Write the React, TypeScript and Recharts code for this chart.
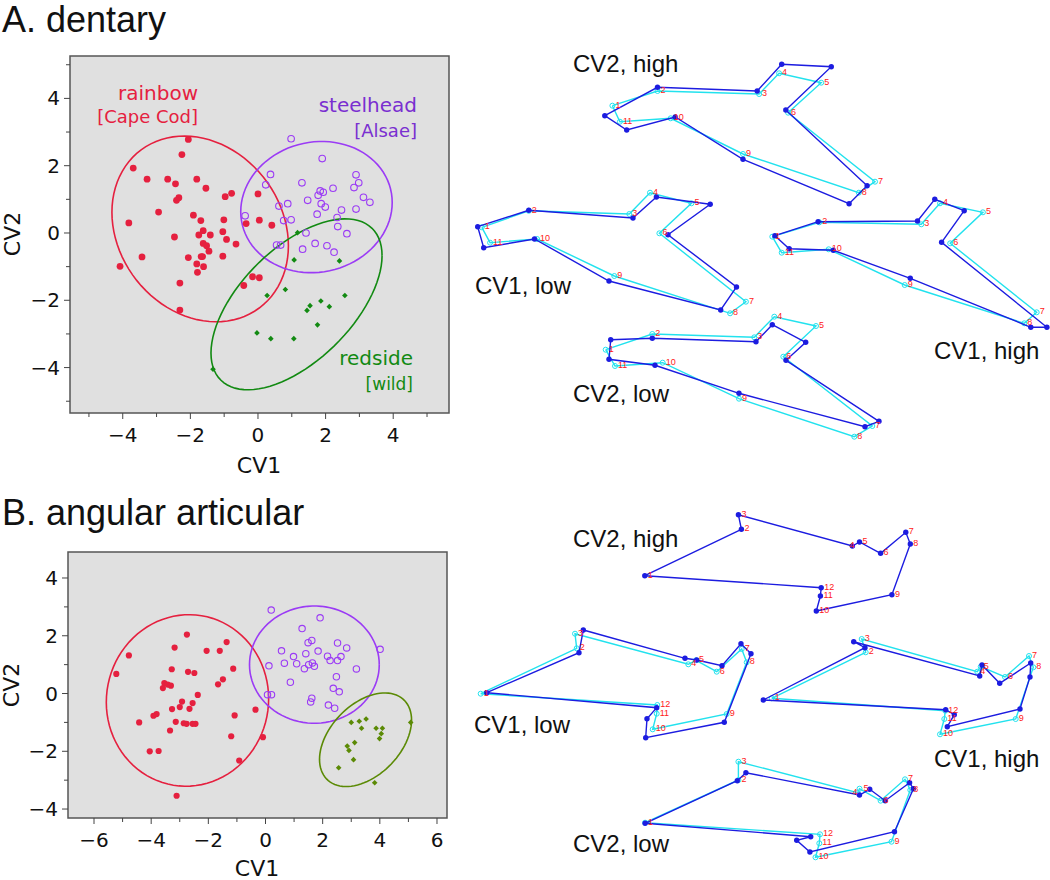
import React from "react";
import {
  ScatterChart,
  Scatter,
  XAxis,
  YAxis,
  ReferenceArea,
} from "recharts";

// ---------- panel A (dentary) scatter values ----------
const rainbowA = [
  [-2.06, 2.78], [-2.25, 2.33], [-3.69, 1.93], [-3.28, 1.6], [-2.67, 1.6], [-2.44, 1.46],
  [-1.81, 1.6], [-1.54, 1.33], [-2.34, 1.05], [-2.41, 0.97], [-0.97, 1.08], [-0.78, 1.18],
  [0.0, 1.16], [-2.94, 0.62], [-1.91, 0.53], [-1.69, 0.37], [-1.01, 0.39], [-0.35, 0.28],
  [0.04, 0.38], [0.41, 0.23], [-3.82, 0.3], [-1.62, 0.07], [-1.75, -0.06], [-1.41, -0.06],
  [-1.04, 0.04], [-0.93, -0.19], [-0.65, -0.33], [-2.47, -0.12], [-1.62, -0.31], [-1.52, -0.38],
  [-1.45, -0.54], [-1.64, -0.7], [-1.68, -0.7], [-2.06, -0.73], [-3.43, -0.71], [-1.04, -0.69],
  [-1.81, -0.92], [-1.61, -1.0], [-1.79, -1.17], [-4.08, -0.99], [-0.16, -1.3], [0.04, -1.33],
  [-0.42, -1.56], [-2.31, -1.49], [-2.31, -2.29],
];
const steelheadA = [
  [0.98, 2.8], [1.9, 2.21], [0.37, 1.74], [0.23, 1.43], [1.3, 1.49], [2.9, 1.73], [2.98, 1.49],
  [2.84, 1.35], [2.22, 1.33], [1.84, 1.25], [1.93, 1.21], [1.78, 1.12], [3.12, 1.06], [3.31, 0.91],
  [1.47, 0.97], [1.87, 0.87], [1.99, 0.77], [0.88, 0.87], [0.62, 0.8], [2.47, 0.68], [2.9, 0.71],
  [1.75, 0.56], [-0.38, 0.51], [0.76, 0.37], [0.98, 0.39], [2.34, 0.46], [2.36, 0.19], [1.42, 0.0],
  [2.63, -0.02], [0.55, -0.36], [0.67, -0.36], [1.69, -0.31], [2.04, -0.38], [1.32, -0.48],
  [2.25, -0.57],
];
const redsideA = [
  [1.17, 0.01], [1.07, -0.8], [2.41, -0.83], [0.81, -1.68], [0.27, -1.86], [2.57, -1.86],
  [1.86, -2.02], [1.54, -2.16], [1.45, -2.3], [2.11, -2.19], [1.76, -2.73], [-0.03, -2.97],
  [0.38, -3.14], [1.06, -3.14], [-1.33, -4.05],
];
// ellipse: centre x, centre y, half width, half height, tilt (correlation)
const ellipseRainbowA = [-1.71, 0.12, 2.61, 2.76, -0.18];
const ellipseSteelheadA = [1.73, 0.77, 2.24, 1.95, 0.07];
const ellipseRedsideA = [1.14, -2.12, 2.53, 2.54, 0.57];

// ---------- panel B (angular articular) scatter values ----------
const rainbowB = [
  [-2.75, 2.04], [-3.18, 1.59], [-1.36, 1.78], [-2.06, 1.48], [-1.6, 1.48], [-4.78, 1.32],
  [-1.13, 0.86], [-3.28, 0.84], [-2.71, 0.75], [-2.49, 0.71], [-5.22, 0.68], [-1.49, 0.49],
  [-1.66, 0.32], [-3.54, 0.36], [-3.42, 0.31], [-3.31, 0.27], [-3.59, 0.19], [-2.37, -0.05],
  [-2.92, -0.28], [-2.55, -0.33], [-3.0, -0.47], [-2.66, -0.53], [-3.27, -0.54], [-0.35, -0.56],
  [-3.81, -0.71], [-3.92, -0.77], [-1.08, -0.76], [-4.42, -1.0], [-3.14, -0.98], [-2.86, -1.03],
  [-2.76, -1.05], [-2.55, -1.05], [-2.45, -1.05], [-3.34, -1.28], [-1.2, -1.48], [-0.09, -1.51],
  [-4.05, -2.0], [-3.74, -1.99], [-0.92, -2.32], [-3.11, -3.54],
];
const steelheadB = [
  [0.2, 2.89], [1.91, 2.62], [1.28, 2.25], [1.62, 1.84], [1.49, 1.76], [2.52, 1.75], [2.84, 1.58],
  [4.01, 1.53], [0.56, 1.48], [1.84, 1.47], [1.41, 1.38], [0.98, 1.28], [2.17, 1.29], [2.64, 1.28],
  [2.26, 1.14], [2.52, 1.14], [0.66, 1.05], [1.09, 1.03], [0.12, 0.96], [1.51, 1.0], [1.64, 1.06],
  [1.71, 0.94], [1.36, 0.86], [3.18, 0.85], [2.48, 0.58], [0.87, 0.39], [2.37, 0.18], [2.58, 0.06],
  [0.07, -0.04], [0.21, -0.04], [1.62, -0.16], [1.58, -0.29], [2.2, -0.4], [2.42, -0.51],
];
const redsideB = [
  [3.52, -0.88], [3.28, -0.96], [3.0, -1.0], [5.08, -1.0], [3.36, -1.2], [3.87, -1.2], [4.09, -1.2],
  [4.05, -1.39], [3.99, -1.56], [3.12, -1.7], [2.86, -1.82], [2.92, -1.97], [3.08, -2.29],
  [2.56, -2.57], [3.82, -3.09],
];
const ellipseRainbowB = [-2.73, -0.24, 2.84, 2.97, 0.02];
const ellipseSteelheadB = [1.71, 1.0, 2.27, 2.03, 0.0];
const ellipseRedsideB = [3.5, -1.6, 1.61, 1.62, 0.42];

// ---------- landmark outlines (figure units, y downwards) ----------
// A. dentary
const dentCv2HighBlue = [[604.8, 115.7], [657.5, 87.3], [757.2, 91], [781.7, 64.3], [831.3, 66.7], [785.8, 110], [867.1, 185.7], [849.1, 203.7], [743, 159.3], [675.2, 117], [626.7, 130]];
const dentCv2HighCyan = [[612.4, 105.7], [657.5, 91], [759.1, 94], [779.1, 73.3], [821.2, 82.7], [788.1, 112.7], [875, 181.7], [858.8, 192.7], [743, 154], [670.7, 118.3], [619.9, 121.7]];
const dentCv1LowBlue = [[477.7, 226.7], [528.8, 210.3], [633, 218], [656.4, 197], [710.2, 204.3], [668, 234.7], [736.5, 287], [720.7, 310], [609, 281], [534.5, 239], [483.7, 247.7]];
const dentCv1LowCyan = [[481.8, 227.3], [528.8, 210.8], [629.3, 214], [650, 192.7], [691.4, 203.3], [659.4, 233.3], [745.9, 301.7], [730.1, 313.3], [614.3, 276], [537.1, 239], [490.1, 242.7]];
const dentCv1HighBlue = [[774.9, 235.7], [818.1, 221.7], [917.5, 221], [934.8, 199.3], [964.2, 210.7], [941.6, 242.3], [1046.9, 327.3], [1030.8, 327.3], [910.3, 278.3], [833.3, 250.3], [789.2, 248.7]];
const dentCv1HighCyan = [[772.3, 236.7], [819.3, 222.3], [921.3, 224.3], [940, 203.3], [982.9, 212.3], [950.2, 243.3], [1036.7, 312.3], [1024.3, 323.3], [904.7, 285], [828.7, 249.3], [781.7, 252.7]];
const dentCv2LowBlue = [[610.7, 339.7], [652.3, 338.3], [756, 341.7], [772.3, 324.7], [805.7, 342.3], [786, 360.3], [879, 421.3], [865, 426.7], [739, 393.3], [655, 365.3], [609, 359.3]];
const dentCv2LowCyan = [[605.7, 349.7], [652.3, 334], [754.3, 337.3], [774.3, 316.7], [816, 326], [783.3, 356.7], [872.3, 426], [854.3, 436.7], [739, 398.7], [662.7, 362.7], [615, 366]];
// B. angular articular
const angCv2HighBlue = [[644.8, 575.7], [741.4, 529.3], [738.4, 514.7], [852.4, 546], [859.5, 542], [880.6, 553.3], [905.8, 532.3], [910.3, 544], [891.9, 594.7], [816.3, 611], [820.4, 596], [821.2, 587.7]];
const angCv1LowBlue = [[486.7, 692.7], [579, 652.7], [583.3, 630], [685, 658.3], [696.7, 660], [722, 665.7], [741, 643.7], [751, 653.7], [724.3, 722.3], [645.7, 737.7], [647, 718.7], [656.7, 707.7]];
const angCv1LowCyan = [[480.7, 693.7], [576.7, 648.3], [575, 633.7], [688.3, 664.3], [696, 660.3], [716.7, 671.7], [741.7, 649], [746.7, 662.3], [726.7, 714], [652.7, 729.3], [656.7, 713.7], [657.3, 705]];
const angCv1HighBlue = [[763.3, 700], [865, 647.7], [853.7, 641.7], [979.7, 676], [982, 665], [999.7, 683.3], [1030.7, 663], [1030, 677], [1020, 709], [947.3, 726.7], [954.3, 714.7], [945.7, 709.7]];
const angCv1HighCyan = [[771.7, 698.3], [865.7, 652.3], [861.7, 639], [977.3, 671.7], [980.7, 666.7], [1005, 677], [1029, 656], [1033.3, 667.3], [1015.7, 719], [940, 734.3], [944.3, 719], [945.3, 710.7]];
const angCv2LowBlue = [[645.1, 823.3], [737.3, 780.7], [745.9, 772.7], [859.5, 795], [869.7, 789.3], [885.2, 800.7], [909.6, 782.7], [913.4, 788.7], [894.5, 831.7], [809.9, 852], [796.7, 840.3], [810.7, 836.7]];
const angCv2LowCyan = [[645.1, 822.7], [738.4, 780], [738.4, 761.7], [857.6, 792.7], [859.5, 788.7], [880.6, 800.7], [905, 779.3], [910.3, 790], [891.5, 841.7], [815.5, 857.3], [819.3, 843.3], [820, 834.3]];

const RED = "#e5203f";
const PURPLE = "#9b3bf5";
const GREEN_A = "#128a12";
const GREEN_B = "#5b8a05";
const BLUE = "#1c1ce0";
const CYAN = "#22e2ee";
const BG = "#e0e0e0";

const toPts = (arr: number[][]) => arr.map(([x, y]) => ({ x, y }));

function ellipsePts(e: number[]) {
  const [cx, cy, sx, sy, r] = e;
  const out = [];
  for (let i = 0; i <= 90; i++) {
    const t = (i / 90) * Math.PI * 2;
    out.push({
      x: cx + sx * Math.cos(t),
      y: cy + sy * (r * Math.cos(t) + Math.sqrt(1 - r * r) * Math.sin(t)),
    });
  }
  return out;
}

const fmt = (v: number) => (v < 0 ? "\u2212" + Math.abs(v) : String(v));

const XTick = (props: any) => {
  const { x, y, payload } = props;
  const major = payload.value % 2 === 0;
  return (
    <g>
      <line x1={x} x2={x} y1={y} y2={y + (major ? 6 : 4)} stroke="#444" />
      {major && (
        <text x={x} y={y + 29} textAnchor="middle" fontSize={20} fontFamily="DejaVu Sans" fill="#111">
          {fmt(payload.value)}
        </text>
      )}
    </g>
  );
};

const YTick = (props: any) => {
  const { x, y, payload } = props;
  const major = payload.value % 2 === 0;
  return (
    <g>
      <line x1={x} x2={x - (major ? 6 : 4)} y1={y} y2={y} stroke="#444" />
      {major && (
        <text x={x - 10} y={y + 7} textAnchor="end" fontSize={20} fontFamily="DejaVu Sans" fill="#111">
          {fmt(payload.value)}
        </text>
      )}
    </g>
  );
};

const filledDot = (color: string, r: number) => (p: any) => <circle cx={p.cx} cy={p.cy} r={r} fill={color} />;
const openDot = (color: string, r: number) => (p: any) => (
  <circle cx={p.cx} cy={p.cy} r={r} fill="none" stroke={color} strokeWidth={1.1} />
);
const diamond = (color: string, s: number) => (p: any) => (
  <path d={`M${p.cx},${p.cy - s}L${p.cx + s},${p.cy}L${p.cx},${p.cy + s}L${p.cx - s},${p.cy}Z`} fill={color} />
);
const noDot = () => <g />;

function Txt({ x, y, size, color = "#111", anchor = "start", family = "Liberation Sans", children }: any) {
  const style: any = {
    position: "absolute",
    top: y - 0.846 * size,
    fontSize: size,
    lineHeight: 1,
    color,
    fontFamily: family,
    whiteSpace: "nowrap",
  };
  if (anchor === "end") style.right = 1050 - x;
  else if (anchor === "middle") {
    style.left = x;
    style.transform = "translateX(-50%)";
  } else style.left = x;
  return <div style={style}>{children}</div>;
}

function VTxt({ x, y, size, children }: any) {
  return (
    <div
      style={{
        position: "absolute",
        left: x,
        top: y,
        fontSize: size,
        lineHeight: 1,
        fontFamily: "DejaVu Sans",
        color: "#111",
        transform: "translate(-50%, -50%) rotate(-90deg)",
        whiteSpace: "nowrap",
      }}
    >
      {children}
    </div>
  );
}

function CvScatter({ width, height, margin, yWidth, xHeight, xDomain, yDomain, xTicks, yTicks, groups }: any) {
  return (
    <ScatterChart width={width} height={height} margin={margin}>
      <XAxis
        type="number"
        dataKey="x"
        domain={xDomain}
        allowDataOverflow
        ticks={xTicks}
        interval={0}
        height={xHeight}
        axisLine={false}
        tickLine={false}
        tickSize={0}
        tickMargin={0}
        tick={<XTick />}
      />
      <YAxis
        type="number"
        dataKey="y"
        domain={yDomain}
        allowDataOverflow
        ticks={yTicks}
        interval={0}
        width={yWidth}
        axisLine={false}
        tickLine={false}
        tickSize={0}
        tickMargin={0}
        tick={<YTick />}
      />
      <ReferenceArea
        x1={xDomain[0]}
        x2={xDomain[1]}
        y1={yDomain[0]}
        y2={yDomain[1]}
        fill={BG}
        fillOpacity={1}
        stroke="#555"
        strokeWidth={1.5}
      />
      {groups.map((g: any, i: number) => (
        <Scatter key={"e" + i} data={ellipsePts(g.ellipse)} fill={g.color} line={{ stroke: g.color, strokeWidth: 1.6 }} shape={noDot} isAnimationActive={false} />
      ))}
      {groups.map((g: any, i: number) => (
        <Scatter key={"p" + i} data={toPts(g.points)} fill={g.color} shape={g.shape} isAnimationActive={false} />
      ))}
    </ScatterChart>
  );
}

const closed = (arr: number[][], labelShift: any = {}) => {
  const pts = arr.map(([x, y], i) => ({ x, y, n: i + 1, dx: labelShift[i + 1] || 0 }));
  return [...pts, { x: arr[0][0], y: arr[0][1], n: 0, dx: 0 }];
};

const landmark = (open: boolean) => (p: any) => {
  if (!p.payload || !p.payload.n) return <g />;
  return open ? (
    <circle cx={p.cx} cy={p.cy} r={2.5} fill="none" stroke={CYAN} strokeWidth={1} />
  ) : (
    <circle cx={p.cx} cy={p.cy} r={2.7} fill={BLUE} />
  );
};

const numberLabel = (p: any) => {
  if (!p.payload || !p.payload.n) return <g />;
  return (
    <text x={p.cx + 3 + p.payload.dx} y={p.cy + 2} fontSize={9} fill="#ff2020" fontFamily="Liberation Sans">
      {p.payload.n}
    </text>
  );
};

const outlines = [
  { blue: dentCv2HighBlue, cyan: dentCv2HighCyan, shift: {} },
  { blue: dentCv1LowBlue, cyan: dentCv1LowCyan, shift: {} },
  { blue: dentCv1HighBlue, cyan: dentCv1HighCyan, shift: {} },
  { blue: dentCv2LowBlue, cyan: dentCv2LowCyan, shift: {} },
  { blue: angCv2HighBlue, cyan: null, shift: { 4: -6 } },
  { blue: angCv1LowBlue, cyan: angCv1LowCyan, shift: {} },
  { blue: angCv1HighBlue, cyan: angCv1HighCyan, shift: {} },
  { blue: angCv2LowBlue, cyan: angCv2LowCyan, shift: { 4: -8, 5: 1 } },
];

function Outlines() {
  return (
    <ScatterChart width={590} height={880} margin={{ top: 0, right: 0, bottom: 0, left: 0 }}>
      <XAxis type="number" dataKey="x" domain={[460, 1050]} allowDataOverflow hide />
      <YAxis type="number" dataKey="y" domain={[0, 880]} allowDataOverflow reversed hide />
      {outlines.map((o, i) =>
        o.cyan ? (
          <Scatter key={"c" + i} data={closed(o.cyan)} fill={CYAN} line={{ stroke: CYAN, strokeWidth: 1.4 }} shape={landmark(true)} isAnimationActive={false} />
        ) : null
      )}
      {outlines.map((o, i) => (
        <Scatter key={"b" + i} data={closed(o.blue)} fill={BLUE} line={{ stroke: BLUE, strokeWidth: 1.4 }} shape={landmark(false)} isAnimationActive={false} />
      ))}
      {outlines.map((o, i) => (
        <Scatter key={"n" + i} data={closed(o.cyan || o.blue, o.shift)} fill="#ff2020" shape={numberLabel} isAnimationActive={false} />
      ))}
    </ScatterChart>
  );
}

const ticksA = [-5, -4, -3, -2, -1, 0, 1, 2, 3, 4, 5];
const ticksBx = [-6, -5, -4, -3, -2, -1, 0, 1, 2, 3, 4, 5, 6];
const ticksBy = [-4, -3, -2, -1, 0, 1, 2, 3, 4];

export default function App() {
  return (
    <div style={{ position: "absolute", left: 0, top: 0, width: 1050, height: 880, background: "#fff", overflow: "hidden" }}>
      <div style={{ position: "absolute", left: 0, top: 0 }}>
        <CvScatter
          width={460}
          height={490}
          margin={{ top: 56, right: 11, bottom: 17, left: 0 }}
          yWidth={70}
          xHeight={60}
          xDomain={[-5.56, 5.65]}
          yDomain={[-5.35, 5.26]}
          xTicks={ticksA}
          yTicks={ticksA}
          groups={[
            { ellipse: ellipseRainbowA, points: rainbowA, color: RED, shape: filledDot(RED, 3.4) },
            { ellipse: ellipseSteelheadA, points: steelheadA, color: PURPLE, shape: openDot(PURPLE, 3.3) },
            { ellipse: ellipseRedsideA, points: redsideA, color: GREEN_A, shape: diamond(GREEN_A, 2.8) },
          ]}
        />
      </div>
      <div style={{ position: "absolute", left: 0, top: 500 }}>
        <CvScatter
          width={460}
          height={380}
          margin={{ top: 52, right: 13, bottom: 12, left: 0 }}
          yWidth={68}
          xHeight={50}
          xDomain={[-6.91, 6.35]}
          yDomain={[-4.31, 4.9]}
          xTicks={ticksBx}
          yTicks={ticksBy}
          groups={[
            { ellipse: ellipseRainbowB, points: rainbowB, color: RED, shape: filledDot(RED, 3.1) },
            { ellipse: ellipseSteelheadB, points: steelheadB, color: PURPLE, shape: openDot(PURPLE, 3.2) },
            { ellipse: ellipseRedsideB, points: redsideB, color: GREEN_B, shape: diamond(GREEN_B, 2.8) },
          ]}
        />
      </div>
      <div style={{ position: "absolute", left: 460, top: 0 }}>
        <Outlines />
      </div>

      <Txt x={2} y={32} size={36}>A. dentary</Txt>
      <Txt x={2} y={525} size={36}>B. angular articular</Txt>

      <Txt x={198} y={100} size={20} color={RED} anchor="end" family="DejaVu Sans">rainbow</Txt>
      <Txt x={198} y={123} size={18} color={RED} anchor="end" family="DejaVu Sans">[Cape Cod]</Txt>
      <Txt x={417} y={112} size={20} color="#7a2fd0" anchor="end" family="DejaVu Sans">steelhead</Txt>
      <Txt x={417} y={137} size={18} color="#7a2fd0" anchor="end" family="DejaVu Sans">[Alsae]</Txt>
      <Txt x={413} y={365} size={20} color={GREEN_A} anchor="end" family="DejaVu Sans">redside</Txt>
      <Txt x={413} y={390} size={17} color={GREEN_A} anchor="end" family="DejaVu Sans">[wild]</Txt>

      <Txt x={259} y={474} size={22} anchor="middle" family="DejaVu Sans">CV1</Txt>
      <VTxt x={13} y={234} size={22}>CV2</VTxt>
      <Txt x={257} y={877} size={22} anchor="middle" family="DejaVu Sans">CV1</Txt>
      <VTxt x={12} y={685} size={22}>CV2</VTxt>

      <Txt x={573} y={72} size={24}>CV2, high</Txt>
      <Txt x={475} y={294} size={24}>CV1, low</Txt>
      <Txt x={934} y={359} size={24}>CV1, high</Txt>
      <Txt x={573} y={402} size={24}>CV2, low</Txt>
      <Txt x={573} y={547} size={24}>CV2, high</Txt>
      <Txt x={474} y={733} size={24}>CV1, low</Txt>
      <Txt x={934} y={767} size={24}>CV1, high</Txt>
      <Txt x={573} y={852} size={24}>CV2, low</Txt>
    </div>
  );
}
